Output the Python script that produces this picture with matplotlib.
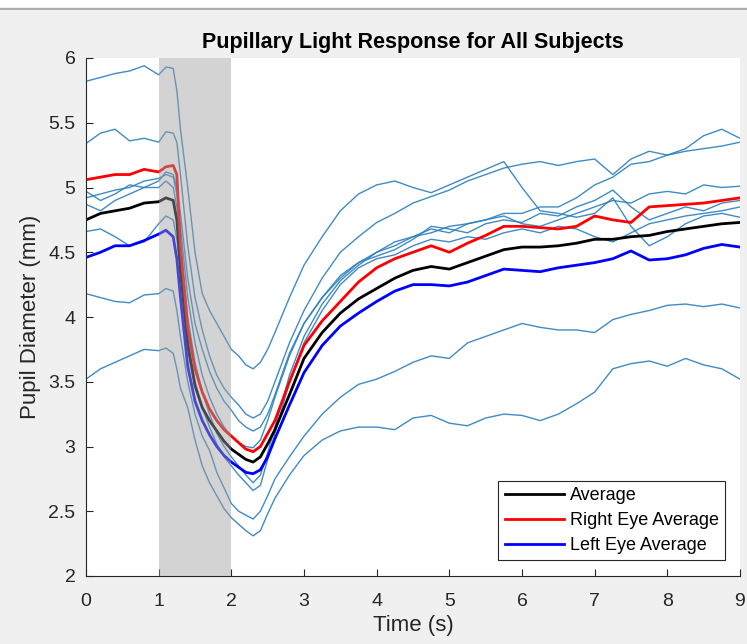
import numpy as np
import matplotlib.pyplot as plt
from matplotlib.ticker import FormatStrFormatter

plt.rcParams['font.family'] = ['Liberation Sans', 'DejaVu Sans']

# time samples (s)
time = [0, 0.2, 0.4, 0.6, 0.8, 1.0, 1.1, 1.2, 1.25, 1.3, 1.4, 1.5, 1.6, 1.7, 1.8, 1.9,
        2.0, 2.1, 2.2, 2.3, 2.4, 2.5, 2.6, 2.8, 3.0, 3.25, 3.5, 3.75, 4.0, 4.25, 4.5, 4.75,
        5.0, 5.25, 5.5, 5.75, 6.0, 6.25, 6.5, 6.75, 7.0, 7.25, 7.5, 7.75, 8.0, 8.25, 8.5, 8.75, 9.0]

# individual subjects, pupil diameter (mm)
subj1 = [5.82, 5.85, 5.88, 5.9, 5.94, 5.87, 5.93, 5.92, 5.75, 5.45, 5.0, 4.5, 4.18, 4.05, 3.95, 3.85,
         3.75, 3.7, 3.63, 3.6, 3.65, 3.75, 3.88, 4.15, 4.4, 4.62, 4.82, 4.95, 5.02, 5.05, 5.0, 4.96,
         5.02, 5.08, 5.14, 5.2, 5.0, 4.82, 4.8, 4.77, 4.8, 4.92, 4.7, 4.55, 4.62, 4.72, 4.78, 4.8, 4.77]
subj2 = [5.34, 5.42, 5.45, 5.36, 5.38, 5.35, 5.43, 5.42, 5.35, 5.1, 4.55, 4.15, 3.9, 3.7, 3.55, 3.45,
         3.38, 3.32, 3.25, 3.22, 3.25, 3.35, 3.5, 3.8, 4.05, 4.3, 4.5, 4.62, 4.73, 4.8, 4.88, 4.93,
         4.98, 5.05, 5.1, 5.15, 5.18, 5.2, 5.17, 5.2, 5.22, 5.1, 5.22, 5.28, 5.25, 5.3, 5.4, 5.45, 5.38]
subj3 = [4.87, 4.82, 4.9, 4.95, 5.0, 5.0, 5.05, 5.0, 4.85, 4.55, 4.0, 3.65, 3.42, 3.25, 3.1, 3.0,
         2.92, 2.85, 2.78, 2.72, 2.78, 2.95, 3.15, 3.55, 3.85, 4.1, 4.28, 4.4, 4.5, 4.55, 4.62, 4.65,
         4.7, 4.72, 4.75, 4.8, 4.8, 4.85, 4.85, 4.92, 5.02, 5.08, 5.18, 5.2, 5.25, 5.28, 5.3, 5.32, 5.35]
subj4 = [4.97, 4.9, 4.95, 5.02, 5.0, 5.05, 5.12, 5.1, 5.0, 4.8, 4.3, 3.95, 3.75, 3.58, 3.45, 3.35,
         3.28, 3.2, 3.15, 3.12, 3.15, 3.25, 3.4, 3.72, 3.95, 4.15, 4.3, 4.42, 4.5, 4.58, 4.62, 4.68,
         4.65, 4.72, 4.75, 4.78, 4.72, 4.7, 4.75, 4.8, 4.85, 4.9, 4.88, 4.95, 4.97, 4.95, 5.02, 5.0, 5.01]
subj5 = [4.92, 4.95, 4.98, 5.0, 5.05, 5.07, 5.1, 5.08, 4.95, 4.7, 4.15, 3.8, 3.55, 3.38, 3.25, 3.15,
         3.08, 3.03, 3.0, 2.99, 3.05, 3.2, 3.38, 3.7, 3.95, 4.15, 4.32, 4.42, 4.47, 4.52, 4.6, 4.7,
         4.68, 4.65, 4.72, 4.75, 4.73, 4.8, 4.78, 4.85, 4.9, 4.98, 4.85, 4.75, 4.8, 4.85, 4.82, 4.88, 4.9]
subj6 = [4.66, 4.68, 4.62, 4.55, 4.58, 4.72, 4.78, 4.75, 4.6, 4.35, 3.85, 3.5, 3.3, 3.15, 3.02, 2.92,
         2.85, 2.78, 2.72, 2.66, 2.7, 2.9, 3.1, 3.5, 3.8, 4.05, 4.25, 4.38, 4.45, 4.48, 4.55, 4.6,
         4.58, 4.62, 4.6, 4.65, 4.68, 4.65, 4.7, 4.68, 4.62, 4.58, 4.65, 4.72, 4.75, 4.78, 4.8, 4.82, 4.85]
subj7 = [4.18, 4.15, 4.12, 4.11, 4.17, 4.18, 4.22, 4.2, 4.05, 3.85, 3.5, 3.25, 3.08, 2.97, 2.8, 2.68,
         2.56, 2.5, 2.47, 2.44, 2.5, 2.62, 2.75, 2.92, 3.08, 3.25, 3.38, 3.48, 3.52, 3.58, 3.65, 3.7,
         3.68, 3.8, 3.85, 3.9, 3.95, 3.92, 3.9, 3.9, 3.88, 3.98, 4.02, 4.05, 4.09, 4.1, 4.08, 4.1, 4.07]
subj8 = [3.52, 3.6, 3.65, 3.7, 3.75, 3.74, 3.76, 3.72, 3.6, 3.45, 3.3, 3.05, 2.85, 2.72, 2.62, 2.52,
         2.45, 2.4, 2.35, 2.31, 2.35, 2.48, 2.6, 2.78, 2.93, 3.05, 3.12, 3.15, 3.15, 3.13, 3.22, 3.24,
         3.18, 3.16, 3.22, 3.25, 3.24, 3.2, 3.25, 3.33, 3.42, 3.6, 3.64, 3.66, 3.62, 3.68, 3.63, 3.6, 3.52]
subjects = [subj1, subj2, subj3, subj4, subj5, subj6, subj7, subj8]

# averages
avg_all = [4.75, 4.8, 4.82, 4.84, 4.88, 4.89, 4.92, 4.9, 4.75, 4.35, 3.78, 3.47, 3.3, 3.2, 3.12, 3.04,
           2.98, 2.94, 2.9, 2.88, 2.92, 3.02, 3.13, 3.4, 3.68, 3.88, 4.03, 4.14, 4.22, 4.3, 4.36, 4.39,
           4.37, 4.42, 4.47, 4.52, 4.54, 4.54, 4.55, 4.57, 4.6, 4.6, 4.62, 4.63, 4.66, 4.68, 4.7, 4.72, 4.73]
avg_right = [5.06, 5.08, 5.1, 5.1, 5.14, 5.12, 5.16, 5.17, 5.1, 4.55, 3.92, 3.6, 3.42, 3.29, 3.2, 3.13,
             3.08, 3.03, 2.98, 2.96, 3.0, 3.1, 3.2, 3.5, 3.78, 3.97, 4.12, 4.27, 4.38, 4.45, 4.5, 4.55,
             4.5, 4.57, 4.63, 4.7, 4.7, 4.69, 4.68, 4.7, 4.78, 4.75, 4.73, 4.85, 4.86, 4.87, 4.88, 4.9, 4.92]
avg_left = [4.46, 4.5, 4.55, 4.55, 4.59, 4.64, 4.67, 4.62, 4.45, 4.15, 3.62, 3.35, 3.2, 3.09, 3.0, 2.93,
            2.88, 2.84, 2.8, 2.79, 2.82, 2.92, 3.06, 3.32, 3.57, 3.78, 3.93, 4.03, 4.12, 4.2, 4.25, 4.25,
            4.24, 4.27, 4.32, 4.37, 4.36, 4.35, 4.38, 4.4, 4.42, 4.45, 4.51, 4.44, 4.45, 4.48, 4.53, 4.56, 4.54]

stim_start = 1
stim_end = 2

fig = plt.figure(figsize=(7.47, 6.44), dpi=100)
fig.patch.set_facecolor('#f0f0f0')
# white strip + grey rule at the very top (window chrome)
fig.add_artist(plt.Rectangle((0, 1 - 7 / 644), 1, 7 / 644, transform=fig.transFigure,
                             facecolor='white', edgecolor='none'))
fig.add_artist(plt.Line2D([0, 1], [1 - 8.5 / 644] * 2, transform=fig.transFigure,
                          color='#a0a0a0', lw=1.2))

ax = fig.add_axes([86 / 747, 1 - 576 / 644, (740 - 86) / 747, (576 - 58) / 644])

for s in subjects:
    ax.plot(time, s, color='#2a7fbf', lw=1.0, alpha=0.9, zorder=2)

l1, = ax.plot(time, avg_all, color='black', lw=2, zorder=2.5, label='Average')
l2, = ax.plot(time, avg_right, color='red', lw=2, zorder=2.5, label='Right Eye Average')
l3, = ax.plot(time, avg_left, color='blue', lw=2, zorder=2.5, label='Left Eye Average')

ax.axvspan(stim_start, stim_end, color=(0.62, 0.62, 0.62), alpha=0.45, lw=0, zorder=3)

ax.set_xlim(0, 9)
ax.set_ylim(2, 6)
ax.set_xticks(range(0, 10))
ax.set_yticks(np.arange(2, 6.01, 0.5))
ax.yaxis.set_major_formatter(FormatStrFormatter('%g'))
ax.tick_params(direction='in', length=5, width=0.8, labelsize=14, colors='#262626')
ax.tick_params(axis='x', pad=12)
ax.tick_params(axis='y', pad=7.5)
for side in ['top', 'right']:
    ax.spines[side].set_visible(False)
for side in ['left', 'bottom']:
    ax.spines[side].set_color('#262626')
    ax.spines[side].set_linewidth(0.8)

ax.set_title('Pupillary Light Response for All Subjects', fontsize=15.5, fontweight='bold', pad=7)
ax.set_xlabel('Time (s)', fontsize=16, color='#262626', labelpad=4)
ax.set_ylabel('Pupil Diameter (mm)', fontsize=16, color='#262626', labelpad=5)

leg = ax.legend(handles=[l1, l2, l3], loc='lower right', fontsize=13, fancybox=False,
                edgecolor='#262626', framealpha=1, borderpad=0.35, labelspacing=0.45,
                handlelength=3.3, handletextpad=0.3, borderaxespad=0,
                bbox_to_anchor=(0.977, 0.03))
leg.get_frame().set_linewidth(0.8)

fig.savefig('out.png', dpi=100, facecolor=fig.get_facecolor())
